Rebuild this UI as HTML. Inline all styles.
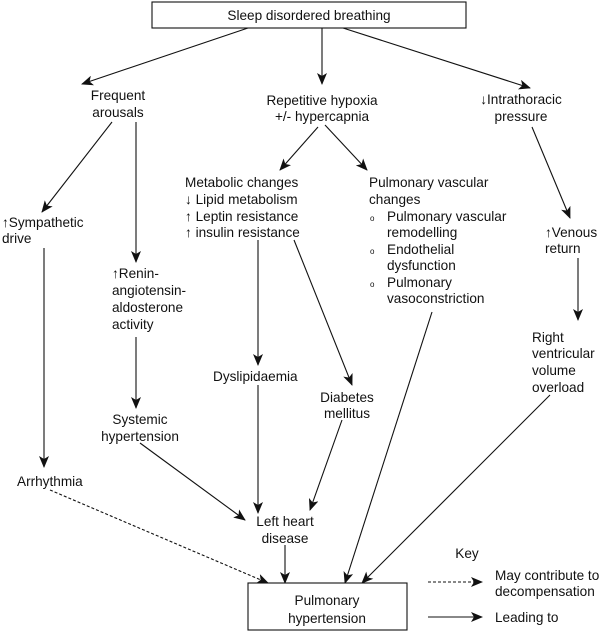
<!DOCTYPE html>
<html><head><meta charset="utf-8"><style>
html,body{margin:0;padding:0;background:#fff}
svg{display:block}
text{font-family:"Liberation Sans",Arial,sans-serif;font-size:13.6px;fill:#111}
line{stroke:#111;stroke-width:1.1}
</style></head><body>
<svg width="612" height="632" viewBox="0 0 612 632" xmlns="http://www.w3.org/2000/svg">
<defs>
<marker id="a" markerWidth="12" markerHeight="10" refX="11" refY="5" orient="auto" markerUnits="userSpaceOnUse">
<path d="M0,0 L12,5 L0,10 L3,5 Z" fill="#111"/>
</marker>
</defs>
<rect x="152" y="2" width="314" height="26" fill="#fff" stroke="#111" stroke-width="1.1"/>
<text x="309" y="20" text-anchor="middle">Sleep disordered breathing</text>

<line x1="248" y1="28" x2="82" y2="84" marker-end="url(#a)"/>
<line x1="322" y1="28" x2="322" y2="84" marker-end="url(#a)"/>
<line x1="343" y1="28" x2="530" y2="88" marker-end="url(#a)"/>

<text x="118" y="100" text-anchor="middle">Frequent</text>
<text x="118" y="117" text-anchor="middle">arousals</text>
<text x="322" y="105" text-anchor="middle">Repetitive hypoxia</text>
<text x="322" y="121" text-anchor="middle">+/- hypercapnia</text>
<text x="521" y="104" text-anchor="middle">↓Intrathoracic</text>
<text x="521" y="121" text-anchor="middle">pressure</text>

<line x1="112" y1="122" x2="42" y2="212" marker-end="url(#a)"/>
<line x1="136" y1="122" x2="136" y2="262" marker-end="url(#a)"/>
<line x1="318" y1="127" x2="280" y2="170" marker-end="url(#a)"/>
<line x1="325" y1="125" x2="367" y2="170" marker-end="url(#a)"/>
<line x1="532" y1="127" x2="570" y2="218" marker-end="url(#a)"/>

<text x="185" y="187">Metabolic changes</text>
<text x="185" y="204">↓ Lipid metabolism</text>
<text x="185" y="221">↑ Leptin resistance</text>
<text x="185" y="237">↑ insulin resistance</text>

<text x="369" y="187">Pulmonary vascular</text>
<text x="369" y="204">changes</text>
<text x="370" y="221" style="font-size:8px">o</text>
<text x="387" y="221">Pulmonary vascular</text>
<text x="387" y="237">remodelling</text>
<text x="370" y="254" style="font-size:8px">o</text>
<text x="387" y="254">Endothelial</text>
<text x="387" y="270">dysfunction</text>
<text x="370" y="287" style="font-size:8px">o</text>
<text x="387" y="287">Pulmonary</text>
<text x="387" y="303">vasoconstriction</text>

<text x="2" y="227">↑Sympathetic</text>
<text x="2" y="243">drive</text>
<text x="545" y="237">↑Venous</text>
<text x="545" y="253">return</text>

<text x="112" y="278">↑Renin-</text>
<text x="112" y="295">angiotensin-</text>
<text x="112" y="312">aldosterone</text>
<text x="112" y="329">activity</text>

<line x1="44" y1="248" x2="44" y2="467" marker-end="url(#a)"/>
<line x1="258" y1="240" x2="258" y2="365" marker-end="url(#a)"/>
<line x1="294" y1="240" x2="352" y2="385" marker-end="url(#a)"/>
<line x1="578" y1="258" x2="578" y2="320" marker-end="url(#a)"/>
<line x1="136" y1="337" x2="136" y2="408" marker-end="url(#a)"/>

<text x="532" y="342">Right</text>
<text x="532" y="358">ventricular</text>
<text x="532" y="375">volume</text>
<text x="532" y="392">overload</text>

<text x="213" y="381">Dyslipidaemia</text>
<text x="347" y="402" text-anchor="middle">Diabetes</text>
<text x="347" y="418" text-anchor="middle">mellitus</text>
<text x="140" y="424" text-anchor="middle">Systemic</text>
<text x="140" y="441" text-anchor="middle">hypertension</text>
<text x="17" y="486">Arrhythmia</text>
<text x="285" y="526" text-anchor="middle">Left heart</text>
<text x="285" y="543" text-anchor="middle">disease</text>

<line x1="258" y1="385" x2="258" y2="513" marker-end="url(#a)"/>
<line x1="140" y1="443" x2="245" y2="520" marker-end="url(#a)"/>
<line x1="342" y1="420" x2="310" y2="510" marker-end="url(#a)"/>
<line x1="432" y1="312" x2="345" y2="583" marker-end="url(#a)"/>
<line x1="550" y1="395" x2="362" y2="583" marker-end="url(#a)"/>
<line x1="285" y1="545" x2="285" y2="583" marker-end="url(#a)"/>
<line x1="50" y1="490" x2="268" y2="583" stroke-dasharray="3,2" marker-end="url(#a)"/>

<rect x="248" y="583" width="159" height="47" fill="#fff" stroke="#111" stroke-width="1.1"/>
<text x="327" y="605" text-anchor="middle">Pulmonary</text>
<text x="327" y="623" text-anchor="middle">hypertension</text>

<text x="467" y="558" text-anchor="middle">Key</text>
<line x1="428" y1="582" x2="482" y2="582" stroke-dasharray="3,2" marker-end="url(#a)"/>
<text x="495" y="580">May contribute to</text>
<text x="495" y="596">decompensation</text>
<line x1="428" y1="617" x2="482" y2="617" marker-end="url(#a)"/>
<text x="495" y="622">Leading to</text>
</svg>
</body></html>
